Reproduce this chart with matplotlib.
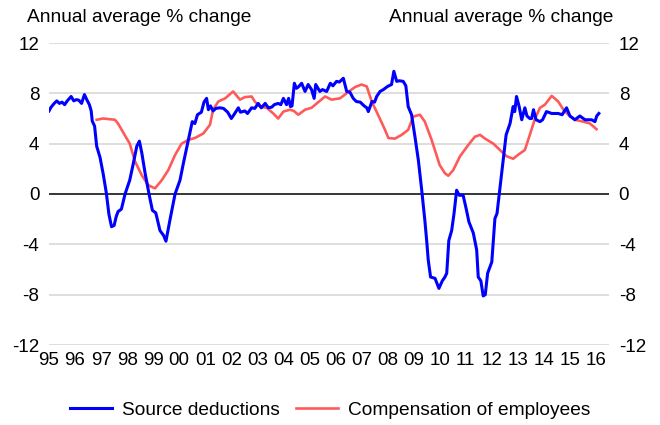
import numpy as np
import matplotlib.pyplot as plt

plt.rcParams['font.family'] = ['Liberation Sans', 'DejaVu Sans']
plt.rcParams['axes.unicode_minus'] = False

# source deductions (annual average % change)
blue_t = [1995.0, 1995.08, 1995.2, 1995.3, 1995.4, 1995.5, 1995.6, 1995.7, 1995.85, 1995.95,
          1996.05, 1996.15, 1996.25, 1996.36, 1996.45, 1996.55, 1996.62, 1996.66, 1996.75, 1996.83,
          1996.96, 1997.08, 1997.2, 1997.3, 1997.4, 1997.5, 1997.58, 1997.65, 1997.78, 1997.92,
          1998.1, 1998.24, 1998.37, 1998.47, 1998.56, 1998.69, 1998.84, 1998.97, 1999.1, 1999.26,
          1999.4, 1999.49, 1999.64, 1999.84, 2000.03, 2000.16, 2000.35, 2000.5, 2000.6, 2000.7,
          2000.85, 2000.95, 2001.05, 2001.12, 2001.2, 2001.3, 2001.4, 2001.56, 2001.7, 2001.86,
          2002.0, 2002.1, 2002.27, 2002.35, 2002.52, 2002.62, 2002.78, 2002.9, 2003.03, 2003.15,
          2003.3, 2003.42, 2003.55, 2003.65, 2003.8, 2003.9, 2004.0, 2004.12, 2004.2, 2004.27,
          2004.33, 2004.42, 2004.5, 2004.57, 2004.7, 2004.83, 2004.95, 2005.08, 2005.18, 2005.24,
          2005.4, 2005.5, 2005.66, 2005.8, 2005.9, 2006.04, 2006.15, 2006.3, 2006.43, 2006.55,
          2006.68, 2006.8, 2006.95, 2007.1, 2007.2, 2007.26, 2007.4, 2007.5, 2007.58, 2007.71,
          2007.84, 2008.0, 2008.15, 2008.24, 2008.35, 2008.45, 2008.6, 2008.7, 2008.79, 2008.92,
          2009.05, 2009.18, 2009.31, 2009.43, 2009.5, 2009.56, 2009.65, 2009.82, 2009.97, 2010.1,
          2010.2, 2010.27, 2010.35, 2010.46, 2010.55, 2010.65, 2010.75, 2010.9, 2011.03, 2011.12,
          2011.29, 2011.42, 2011.48, 2011.58, 2011.67, 2011.75, 2011.84, 2012.0, 2012.12, 2012.2,
          2012.38, 2012.55, 2012.7, 2012.82, 2012.88, 2012.95, 2013.05, 2013.15, 2013.27, 2013.35,
          2013.46, 2013.53, 2013.6, 2013.7, 2013.85, 2013.95, 2014.1, 2014.3, 2014.55, 2014.7,
          2014.87, 2015.0, 2015.19, 2015.38, 2015.58, 2015.83, 2015.96, 2016.03, 2016.11]
blue_v = [6.6, 6.9, 7.2, 7.4, 7.2, 7.3, 7.1, 7.4, 7.75, 7.4,
          7.5, 7.45, 7.2, 7.9, 7.5, 7.1, 6.6, 5.8, 5.4, 3.8,
          2.9, 1.6, 0.1, -1.6, -2.6, -2.5, -1.8, -1.4, -1.2, 0.0,
          1.1, 2.45, 3.8, 4.2, 3.3, 1.65, 0.0, -1.3, -1.5, -2.9,
          -3.3, -3.75, -2.1, 0.0, 1.1, 2.45, 4.3, 5.75, 5.6, 6.3,
          6.5, 7.3, 7.6, 6.7, 7.0, 6.6, 6.8, 6.85, 6.8, 6.5,
          6.0, 6.3, 6.85, 6.5, 6.6, 6.4, 6.85, 6.8, 7.2, 6.85,
          7.2, 6.85, 6.9, 7.1, 7.2, 7.1, 7.6, 7.1, 7.6, 6.95,
          7.0, 8.8, 8.4, 8.5, 8.8, 8.15, 8.7, 8.3, 7.6, 8.7,
          8.15, 8.3, 8.15, 8.8, 8.6, 8.95, 8.9, 9.2, 8.15, 8.1,
          7.6, 7.35, 7.3, 7.0, 6.85, 6.55, 7.35, 7.3, 7.75, 8.15,
          8.3, 8.55, 8.7, 9.75, 8.95, 9.0, 8.95, 8.6, 6.95, 6.3,
          4.55, 2.7, 0.3, -2.1, -3.7, -5.25, -6.6, -6.7, -7.5, -6.9,
          -6.6, -6.3, -3.7, -2.9, -1.55, 0.3, -0.1, -0.1, -1.3, -2.2,
          -3.1, -4.45, -6.6, -6.9, -8.1, -8.0, -6.3, -5.4, -1.95, -1.55,
          1.65, 4.7, 5.6, 6.95, 6.55, 7.75, 6.95, 5.9, 6.85, 6.2,
          6.0, 6.0, 6.7, 5.9, 5.75, 5.9, 6.55, 6.4, 6.4, 6.3,
          6.85, 6.2, 5.9, 6.2, 5.9, 5.9, 5.75, 6.2, 6.4]

# compensation of employees (annual average % change)
red_t = [1996.83, 1997.08, 1997.53, 1997.65, 1998.1, 1998.3, 1998.56, 1998.81, 1999.07, 1999.33,
         1999.58, 1999.84, 2000.09, 2000.35, 2000.6, 2000.92, 2001.18, 2001.3, 2001.5, 2001.76,
         2002.07, 2002.33, 2002.52, 2002.78, 2002.9, 2003.1, 2003.36, 2003.61, 2003.8, 2004.0,
         2004.25, 2004.4, 2004.57, 2004.83, 2005.08, 2005.28, 2005.6, 2005.85, 2006.17, 2006.55,
         2006.75, 2007.0, 2007.2, 2007.39, 2007.7, 2007.9, 2008.03, 2008.28, 2008.54, 2008.79,
         2008.98, 2009.24, 2009.43, 2009.69, 2010.0, 2010.2, 2010.33, 2010.52, 2010.78, 2011.1,
         2011.35, 2011.55, 2011.74, 2012.06, 2012.31, 2012.57, 2012.82, 2013.0, 2013.27, 2013.46,
         2013.66, 2013.85, 2014.04, 2014.3, 2014.55, 2014.75, 2014.94, 2015.19, 2015.51, 2015.77,
         2016.02]
red_v = [5.9, 6.0, 5.9, 5.6, 4.0, 2.6, 1.5, 0.7, 0.45, 1.1,
         1.9, 3.1, 4.0, 4.3, 4.45, 4.8, 5.5, 6.7, 7.35, 7.6,
         8.15, 7.5, 7.7, 7.75, 7.35, 6.95, 6.85, 6.4, 6.0, 6.55,
         6.7, 6.6, 6.3, 6.7, 6.85, 7.2, 7.75, 7.5, 7.6, 8.2,
         8.5, 8.7, 8.55, 7.35, 6.0, 5.1, 4.45, 4.4, 4.7, 5.1,
         6.15, 6.3, 5.75, 4.3, 2.3, 1.65, 1.45, 1.9, 3.0, 3.9,
         4.55, 4.7, 4.4, 4.0, 3.5, 3.0, 2.8, 3.1, 3.5, 4.7,
         6.0, 6.85, 7.1, 7.8, 7.35, 6.7, 6.3, 5.9, 5.75, 5.6,
         5.15]

years = list(range(1995, 2017))
year_labels = ['%02d' % (y % 100) for y in years]
yticks = [-12, -8, -4, 0, 4, 8, 12]
unit_label = 'Annual average % change'

fig = plt.figure(figsize=(6.6, 4.25), dpi=100)
ax = fig.add_axes([49/660, 1-345/425, 560/660, 302/425])

for y in yticks:
    if y == 0:
        ax.axhline(y, color='black', lw=1.1, zorder=1)
    else:
        ax.axhline(y, color='#d4d4d4', lw=1.1, zorder=1)

ax.plot(blue_t, blue_v, color='#0000ff', lw=2.2, label='Source deductions', zorder=3)
ax.plot(red_t, red_v, color='#ff5a5a', lw=1.9, label='Compensation of employees', zorder=2)

ax.set_xlim(1995.0, 2016.5)
ax.set_ylim(-12, 12)
ax.set_xticks(years)
ax.set_xticklabels(year_labels)
ax.set_yticks(yticks)
ax.tick_params(axis='both', length=0, labelsize=13.5)
ax.tick_params(axis='x', pad=5)
ax.tick_params(axis='y', pad=7, labelright=True)
for s in ax.spines.values():
    s.set_visible(False)

fig.text(27/660, 1-22/425, unit_label, fontsize=13.8, ha='left', va='baseline')
fig.text(613/660, 1-22/425, unit_label, fontsize=13.8, ha='right', va='baseline')

fig.legend(loc='center', bbox_to_anchor=(0.5, 1-410/425), ncol=2, frameon=False,
           fontsize=13.8, handlelength=2.2, columnspacing=0.85, handletextpad=0.5)

fig.savefig('out.png', dpi=100)
